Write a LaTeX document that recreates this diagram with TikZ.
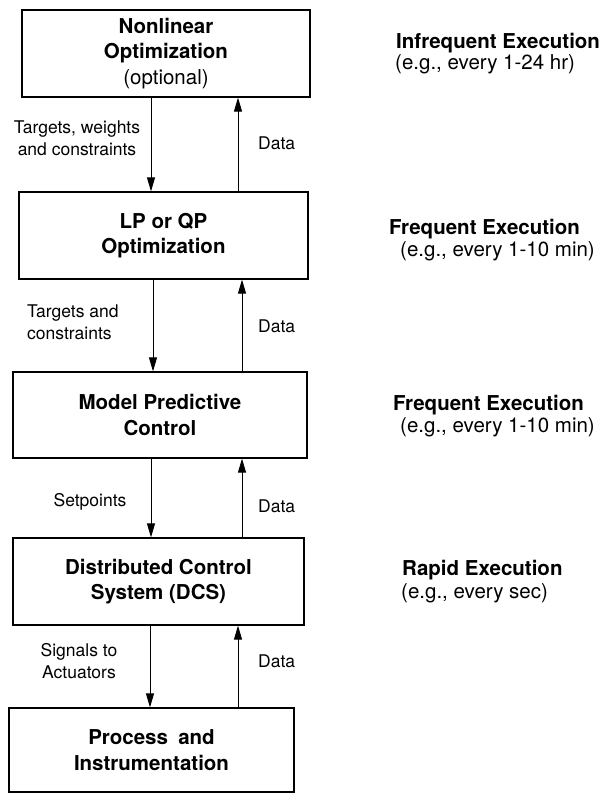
\documentclass[tikz,border=0pt]{standalone}
\usepackage{fontspec}
\setmainfont{TeX Gyre Heros}
\usetikzlibrary{arrows.meta,positioning,calc}

\begin{document}
\begin{tikzpicture}[x=1pt,y=-1pt,
    level/.style={draw,line width=1.2pt,minimum width=289pt,minimum height=87pt,
        align=center,inner sep=2pt,font=\fontsize{20.5}{25.5}\selectfont\bfseries},
    flow/.style={line width=1pt,-{Triangle[length=14pt,width=8pt]}},
    lbl/.style={inner sep=0pt,align=center,font=\fontsize{17.5}{22}\selectfont},
    rate/.style={anchor=west,inner sep=0pt,font=\fontsize{20.5}{24}\selectfont\bfseries},
    period/.style={anchor=west,inner sep=0pt,font=\fontsize{20.5}{24}\selectfont}]
    \useasboundingbox (0,0) rectangle (601,793);

    % Control hierarchy
    \node[level,minimum width=288pt] (nlp) at (166,53.5) {Nonlinear\\Optimization\\\mdseries(optional)};
    \node[level] (lpqp) at (163.5,235.5) {LP or QP\\Optimization};
    \node[level,minimum width=294pt,minimum height=86pt] (mpc) at (160,415) {Model Predictive\\Control};
    \node[level,minimum width=291pt] (dcs) at (158.5,581.5) {Distributed Control\\System (DCS)};
    \node[level,minimum width=285pt,minimum height=84pt] (proc) at (151.5,750) {Process\hspace{0.5em}and\\Instrumentation};

    % Arrows down and up
    \foreach \a/\b/\d/\u in {nlp/lpqp/151/238,lpqp/mpc/153/242,mpc/dcs/151/242,dcs/proc/150/238} {
        \coordinate (dn) at (\d,0);
        \coordinate (up) at (\u,0);
        \draw[flow] (\a.south -| dn) -- (\b.north -| dn);
        \draw[flow] (\b.north -| up) -- (\a.south -| up);
    }

    % Labels
    \node[lbl] (tw) at (77,138) {Targets, weights\\and constraints};
    \node[lbl,anchor=west,align=left] (tc) at (27,322.5) {Targets and\\constraints};
    \node[lbl] (sp) at (90,502) {Setpoints};
    \node[lbl] (sa) at (79,661) {Signals to\\Actuators};
    \foreach \y in {143,326,506,661} {
        \node[lbl,anchor=west] at (258,\y) {Data};
    }

    % Execution rates
    \node[rate] (r1) at (396,43) {Infrequent Execution};
    \node[period] at (395,64) {(e.g., every 1-24 hr)};
    \node[rate] (r2) at (389,229) {Frequent Execution};
    \node[period] at (400,251) {(e.g., every 1-10 min)};
    \node[rate] (r3) at (393,405) {Frequent Execution};
    \node[period] at (400,427) {(e.g., every 1-10 min)};
    \node[rate] (r4) at (402,570) {Rapid Execution};
    \node[period] at (401,593) {(e.g., every sec)};
\end{tikzpicture}
\end{document}
